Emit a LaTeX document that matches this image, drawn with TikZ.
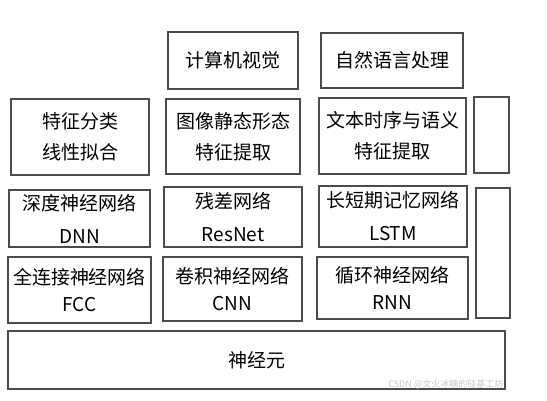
\documentclass[tikz,border=0pt]{standalone}
\usepackage{fontspec}
\newfontfamily\cjk{Noto Sans CJK SC}
\usepackage{tikz}
\tikzset{x=1pt, y=-1pt,
box/.style={ % plain framed box
draw=gray!60!black,
line width=1.3pt,
inner sep=0pt,
align=center,
font=\cjk\fontsize{19}{23}\selectfont},
mark text/.style={ % faint watermark
text=gray!45,
font=\cjk\fontsize{9}{11}\selectfont}}

\begin{document}
\begin{tikzpicture}
\useasboundingbox (0,0) rectangle (547,400);
% top row
\node[box, minimum width=130pt, minimum height=57pt] (cv) at (233,60.5) {计算机视觉};
\node[box, minimum width=142pt, minimum height=55pt] (nlp) at (392,60.5) {自然语言处理};
% tasks
\node[box, minimum width=138pt, minimum height=76pt] (cls) at (80,137) {特征分类\\[8pt]线性拟合};
\node[box, minimum width=134pt, minimum height=75pt] (img) at (233,136.5) {图像静态形态\\[8pt]特征提取};
\node[box, minimum width=147pt, minimum height=76pt] (txt) at (392.5,136) {文本时序与语义\\[8pt]特征提取};
\node[box, minimum width=35pt, minimum height=76pt] (side1) at (491.5,135) {};
% networks
\node[box, minimum width=141pt, minimum height=57pt] (dnn) at (79.5,218.5) {深度神经网络\\[10pt]DNN};
\node[box, minimum width=138pt, minimum height=60pt] (res) at (233,217) {残差网络\\[10pt]ResNet};
\node[box, minimum width=148pt, minimum height=61pt] (lstm) at (393,216.5) {长短期记忆网络\\[10pt]LSTM};
\node[box, minimum width=34pt, minimum height=130pt] (side2) at (493,253) {};
\node[box, minimum width=143pt, minimum height=66pt] (fcc) at (79.5,290) {全连接神经网络\\[4pt]FCC};
\node[box, minimum width=139pt, minimum height=64pt] (cnn) at (232.5,289) {卷积神经网络\\[4pt]CNN};
\node[box, minimum width=151pt, minimum height=62pt] (rnn) at (392.5,288) {循环神经网络\\[4pt]RNN};
% base
\node[box, minimum width=497pt, minimum height=58pt] (neuron) at (256.5,360) {神经元};
\node[mark text, anchor=east] (mark) at (507,384) {CSDN @文火冰糖的硅基工坊};
\end{tikzpicture}
\end{document}
